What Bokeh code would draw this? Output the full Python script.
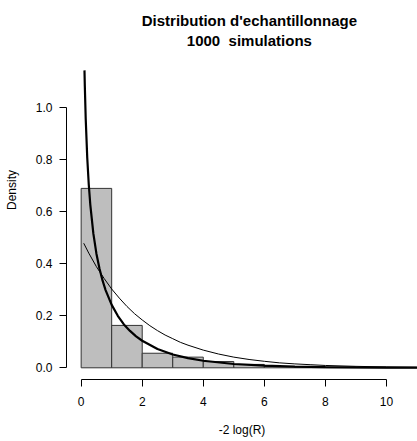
from bokeh.plotting import figure
from bokeh.models import Range1d, FixedTicker, NumeralTickFormatter, Label
from bokeh.embed import file_html
from bokeh.resources import INLINE

# Histogram of -2 log(R) (density scale)
bin_left = [0, 1, 2, 3, 4, 5, 6, 7, 8, 9, 10]
bin_right = [1, 2, 3, 4, 5, 6, 7, 8, 9, 10, 11]
bin_density = [0.690, 0.163, 0.056, 0.041, 0.024, 0.013, 0.005, 0.003, 0.002, 0.002, 0.001]

# Thick curve (chi-square, 1 df) (it leaves the plot region at the top)
thick_x = [0.109, 0.12, 0.15, 0.2, 0.25, 0.3, 0.4, 0.5, 0.6, 0.7, 0.8, 1.0, 1.2,
           1.4, 1.6, 1.8, 2.0, 2.5, 3.0, 3.5, 4.0, 5.0, 6.0, 7.0, 8.0, 9.0, 10.0, 11.0]
thick_y = [1.144, 1.085, 0.956, 0.807, 0.704, 0.627, 0.516, 0.439, 0.382, 0.336,
           0.299, 0.242, 0.200, 0.167, 0.142, 0.121, 0.104, 0.072, 0.051, 0.037, 0.027,
           0.0146, 0.0081, 0.0046, 0.0026, 0.0015, 0.0009, 0.0005]

# Thin curve (chi-square, 2 df)
thin_x = [0.085, 0.25, 0.5, 0.75, 1.0, 1.25, 1.5, 1.75, 2.0, 2.25, 2.5, 2.75, 3.0, 3.25,
          3.5, 4.0, 4.5, 5.0, 5.5, 6.0, 6.5, 7.0, 7.5, 8.0, 9.0, 10.0, 11.0]
thin_y = [0.479, 0.441, 0.389, 0.344, 0.303, 0.268, 0.236, 0.208, 0.184, 0.162, 0.143,
          0.126, 0.112, 0.098, 0.087, 0.068, 0.053, 0.041, 0.032, 0.025, 0.019, 0.015,
          0.012, 0.009, 0.0056, 0.0034, 0.002]

x_ticks = [0, 2, 4, 6, 8, 10]
y_ticks = [0.0, 0.2, 0.4, 0.6, 0.8, 1.0]

title_lines = ["Distribution d'echantillonnage", "1000\u00a0 simulations"]

FONT = "Liberation Sans"

# the frame reaches the top of the canvas so the two title lines can sit inside it
p = figure(width=417, height=441, output_backend="svg", toolbar_location=None,
           title_location=None,
           x_range=Range1d(-0.48, 11.017), y_range=Range1d(-0.045, 1.4127),
           min_border_left=66, min_border_right=0, min_border_top=0, min_border_bottom=62)

p.quad(left=bin_left, right=bin_right, bottom=0, top=bin_density,
       fill_color="#BEBEBE", line_color="#333333", line_width=1)
p.line(thin_x, thin_y, line_color="black", line_width=1)
p.line(thick_x, thick_y, line_color="black", line_width=2.2)

# Two-line centred title (offsets in pixels above the top of the y scale region)
for i, line in enumerate(title_lines):
    p.add_layout(Label(x=5.51, y=1.1435, x_units="data", y_units="data",
                       y_offset=50 - 20 * i, text=line, text_align="center",
                       text_baseline="middle", text_font=FONT, text_font_style="bold",
                       text_font_size="15px", text_color="black"))

p.outline_line_color = None
p.xgrid.visible = False
p.ygrid.visible = False
p.background_fill_color = "white"
p.border_fill_color = "white"

for ax in (p.xaxis[0], p.yaxis[0]):
    ax.axis_line_color = "black"
    ax.major_tick_line_color = "black"
    ax.major_tick_in = 0
    ax.major_tick_out = 7
    ax.minor_tick_line_color = None
    ax.major_label_text_font = FONT
    ax.major_label_text_font_size = "12px"
    ax.major_label_text_color = "black"
    ax.axis_label_text_font = FONT
    ax.axis_label_text_font_size = "12px"
    ax.axis_label_text_font_style = "normal"
    ax.axis_label_text_color = "black"

p.xaxis.ticker = FixedTicker(ticks=x_ticks)
p.xaxis.bounds = (0, 10)
p.xaxis.axis_label = "-2 log(R)"
p.xaxis.major_label_standoff = 10
p.xaxis.axis_label_standoff = 14

p.yaxis.ticker = FixedTicker(ticks=y_ticks)
p.yaxis.formatter = NumeralTickFormatter(format="0.0")
p.yaxis.bounds = (0, 1.0)
p.yaxis.axis_label = "Density"
p.yaxis.major_label_orientation = "horizontal"
p.yaxis.major_label_standoff = 7
p.yaxis.axis_label_standoff = 14

open("out.html", "w").write(file_html(p, INLINE))
